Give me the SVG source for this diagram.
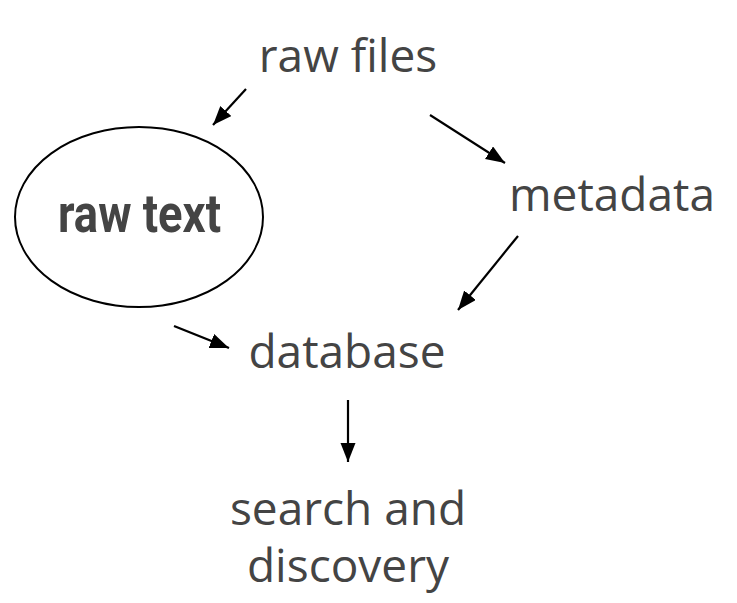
<svg xmlns="http://www.w3.org/2000/svg" width="737" height="603" viewBox="0 0 737 603">
<style>
.lbl{font-family:"Open Sans","Noto Sans","DejaVu Sans",sans-serif;font-size:46px;fill:#444;text-anchor:middle}
.bold{font-family:"Roboto","Liberation Sans",sans-serif;font-weight:bold;font-size:54px;fill:#444}
.edge{stroke:#000;stroke-width:2.2;fill:none;marker-end:url(#ah)}
</style>
<defs>
<marker id="ah" markerUnits="userSpaceOnUse" markerWidth="22" markerHeight="16" refX="19" refY="7.5" orient="auto">
<path d="M0,0 L19,7.5 L0,15 Z" fill="#000"/>
</marker>
</defs>
<rect width="737" height="603" fill="#fff"/>
<g id="raw-files"><text class="lbl" x="348" y="72">raw files</text></g>
<g id="raw-text">
<ellipse cx="139" cy="217" rx="124" ry="90" fill="none" stroke="#000" stroke-width="2"/>
<text class="bold" x="58" y="232" textLength="163" lengthAdjust="spacingAndGlyphs">raw text</text>
</g>
<g id="metadata"><text class="lbl" x="612" y="211">metadata</text></g>
<g id="database"><text class="lbl" x="347" y="368">database</text></g>
<g id="search"><text class="lbl" x="348" y="525">search and</text><text class="lbl" x="348" y="582">discovery</text></g>
<g id="connectors">
<line class="edge" x1="246" y1="89" x2="213" y2="125"/>
<line class="edge" x1="430" y1="115" x2="505" y2="163"/>
<line class="edge" x1="518" y1="236" x2="458" y2="310"/>
<line class="edge" x1="174" y1="326" x2="229" y2="348"/>
<line class="edge" x1="348" y1="400" x2="348" y2="462"/>
</g>
</svg>
